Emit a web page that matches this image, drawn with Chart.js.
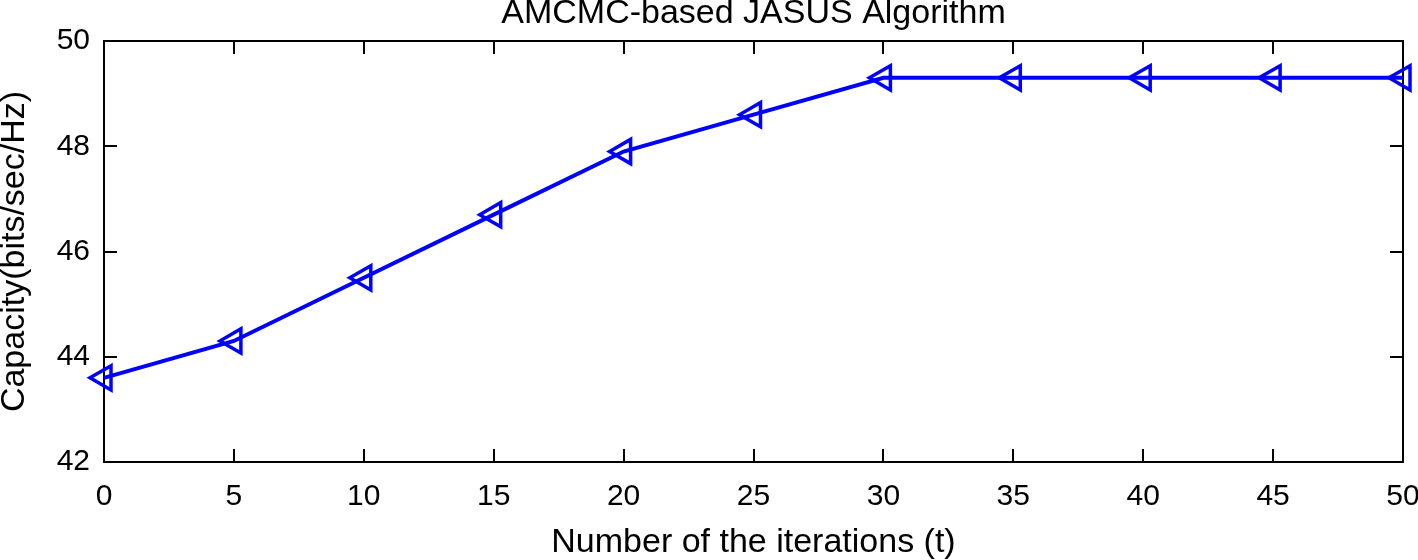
<!DOCTYPE html>
<html><head><meta charset="utf-8">
<script src="https://cdn.jsdelivr.net/npm/chart.js@4"></script>
<style>html,body{margin:0;padding:0;background:#fff}#wrap{width:1418px;height:560px;position:relative}</style>
</head><body><div id="wrap"><canvas id="c"></canvas></div>
<script>
const iterations = [0, 5, 10, 15, 20, 25, 30, 35, 40, 45, 50];
const capacity = [43.6, 44.3, 45.5, 46.7, 47.9, 48.6, 49.3, 49.3, 49.3, 49.3, 49.3];
const xTickValues = [0, 5, 10, 15, 20, 25, 30, 35, 40, 45, 50];
const yTickValues = [42, 44, 46, 48, 50];
const titleText = 'AMCMC-based JASUS Algorithm';
const xLabel = 'Number of the iterations (t)';
const yLabel = 'Capacity(bits/sec/Hz)';

const FONT = '"Liberation Sans", Arial, sans-serif';

const boxTicks = {
  id: 'boxTicks',
  beforeDatasetsDraw(chart) {
    const {ctx, chartArea: {left, right, top, bottom}, scales: {x, y}} = chart;
    ctx.save();
    ctx.strokeStyle = '#000';
    ctx.lineWidth = 2;
    ctx.strokeRect(left, top, right - left, bottom - top);
    const L = 13;
    ctx.beginPath();
    x.ticks.forEach((t, i) => {
      const px = Math.round(x.getPixelForTick(i));
      ctx.moveTo(px, bottom); ctx.lineTo(px, bottom - L);
      ctx.moveTo(px, top); ctx.lineTo(px, top + L);
    });
    y.ticks.forEach((t, i) => {
      const py = Math.round(y.getPixelForTick(i));
      ctx.moveTo(left, py); ctx.lineTo(left + L, py);
      ctx.moveTo(right, py); ctx.lineTo(right - L, py);
    });
    ctx.stroke();
    ctx.restore();
  }
};

new Chart(document.getElementById('c'), {
  type: 'line',
  data: {
    datasets: [{
      data: iterations.map((v, i) => ({x: v, y: capacity[i]})),
      borderColor: '#0000ff',
      borderWidth: 4,
      backgroundColor: 'rgba(0,0,0,0)',
      pointStyle: 'triangle',
      rotation: -90,
      pointRadius: 14,
      pointHoverRadius: 14,
      pointBorderWidth: 3.5,
      pointBorderColor: '#0000ff',
      pointBackgroundColor: 'rgba(0,0,0,0)',
      tension: 0,
      clip: false
    }]
  },
  options: {
    responsive: true,
    maintainAspectRatio: false,
    animation: false,
    events: [],
    layout: {autoPadding: false, padding: {left: 0, right: 15, top: 0, bottom: 0}},
    plugins: {
      legend: {display: false},
      tooltip: {enabled: false},
      title: {
        display: true,
        fullSize: false,
        text: titleText,
        color: '#000',
        font: {family: FONT, size: 34, weight: 'normal', lineHeight: 1},
        padding: {top: -3, bottom: 10}
      }
    },
    scales: {
      x: {
        type: 'linear',
        min: 0, max: 50,
        afterBuildTicks: s => { s.ticks = xTickValues.map(v => ({value: v})); },
        afterFit: s => { s.height = 98; s.paddingLeft = 0; s.paddingRight = 0; },
        grid: {display: false, drawTicks: false},
        border: {display: false},
        ticks: {color: '#000', font: {family: FONT, size: 30}, padding: 17, maxRotation: 0, autoSkip: false},
        title: {display: true, text: xLabel, color: '#000', font: {family: FONT, size: 34, lineHeight: 1}, padding: 0}
      },
      y: {
        min: 42, max: 50,
        afterBuildTicks: s => { s.ticks = yTickValues.map(v => ({value: v})); },
        afterFit: s => { s.width = 104; s.paddingTop = 0; s.paddingBottom = 0; },
        grid: {display: false, drawTicks: false},
        border: {display: false},
        ticks: {color: '#000', font: {family: FONT, size: 30}, padding: 14},
        title: {display: true, text: yLabel, color: '#000', font: {family: FONT, size: 34, lineHeight: 1}, padding: {top: -2, bottom: 0}}
      }
    }
  },
  plugins: [boxTicks]
});
</script>
</body></html>
